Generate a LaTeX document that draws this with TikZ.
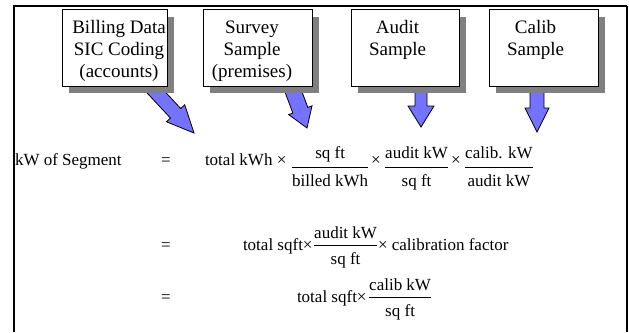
\documentclass[tikz,border=0pt]{standalone}
\usepackage{amsmath}
\usepackage{fontspec}
\setmainfont{Liberation Serif}
\usetikzlibrary{calc,shadows}
\definecolor{arrowblue}{RGB}{115,115,255}
\definecolor{shadowgray}{RGB}{128,128,128}
% fraction centred on the text (rows 2 and 3)
\newcommand{\fr}[2]{$\dfrac{\text{#1}}{\rule{0pt}{16pt}\text{#2}}$}
% fraction set a little below the text line (row 1)
\newcommand{\frl}[2]{\raisebox{-7pt}{$\dfrac{\rule[-7pt]{0pt}{7pt}\text{#1}}{\rule{0pt}{16pt}\text{#2}}$}}
\newcommand{\blockarrow}[5]{%
  \coordinate (ba-h) at ($(#2)!#5!(#1)$);
  \filldraw[arrowshape] ($(#1)!#3!90:(#2)$) -- ($(ba-h)!#3!90:(#2)$) -- ($(ba-h)!#4!90:(#2)$) -- (#2)
    -- ($(ba-h)!#4!-90:(#2)$) -- ($(ba-h)!#3!-90:(#2)$) -- ($(#1)!#3!-90:(#2)$) -- cycle;}
\begin{document}
\begin{tikzpicture}[x=1pt,y=-1pt,
  every node/.style={inner sep=0pt, outer sep=0pt, font=\fontsize{17}{20}\selectfont},
  srcbox/.style={draw=black, line width=0.9pt, fill=white, minimum height=76.5pt,
    drop shadow={shadow xshift=7pt, shadow yshift=-7pt, fill=shadowgray, opacity=1}},
  boxtext/.style={anchor=north, align=center, font=\fontsize{19}{22}\selectfont},
  arrowshape/.style={fill=arrowblue, draw=black, line width=0.8pt, line join=miter},
  frameline/.style={draw=black, line width=2pt}]
\useasboundingbox (0,0) rectangle (629,332);
% frame
\draw[frameline] (14,332) -- (14,6) -- (627,6);
\draw[black, line width=1.4pt] (627,6) -- (627,332);
% arrows (tails hidden under the box shadows)
\coordinate (a1s) at (152,88);  \coordinate (a1e) at (194,133);
\coordinate (a2s) at (292,88);  \coordinate (a2e) at (307,128);
\coordinate (a3s) at (421,88);  \coordinate (a3e) at (421,127);
\coordinate (a4s) at (537,88);  \coordinate (a4e) at (537,132);
\blockarrow{a1s}{a1e}{7pt}{12.5pt}{27pt}
\blockarrow{a2s}{a2e}{8pt}{12.5pt}{19pt}
\blockarrow{a3s}{a3e}{6pt}{13pt}{21pt}
\blockarrow{a4s}{a4e}{7pt}{12pt}{24pt}
% source boxes
\node[srcbox, minimum width=105pt] (b1) at (114.5,47.75) {};
\node[srcbox, minimum width=109pt] (b2) at (257.5,47.75) {};
\node[srcbox, minimum width=108pt] (b3) at (405,47.75) {};
\node[srcbox, minimum width=109pt] (b4) at (543.5,47.75) {};
\node[boxtext] (b1t) at (119,20) {Billing Data\\SIC Coding\\(accounts)};
\node[boxtext] (b2t) at (252,20.5) {Survey\\Sample\\(premises)};
\node[boxtext] (b3t) at (397.5,20.5) {Audit\\Sample};
\node[boxtext] (b4t) at (535.5,20.5) {Calib\\Sample};
% row 1
\node[anchor=base west] (lhs) at (15,165) {kW of Segment};
\node[anchor=base] (eq1) at (166,165) {=};
\node[anchor=base west] (t1) at (205,165) {total kWh ×};
\node[anchor=base west] (f1) at (291,165) {\frl{sq ft}{billed kWh}};
\node[anchor=base] (x2) at (376,165) {×};
\node[anchor=base west] (f2) at (384,165) {\frl{audit kW}{sq ft}};
\node[anchor=base] (x3) at (456,165) {×};
\node[anchor=base west] (f3) at (464,165) {\frl{calib. kW}{audit kW}};
% row 2
\node[anchor=base] (eq2) at (166,250) {=};
\node[anchor=base west] (t2) at (243,250) {total sqft×};
\node[anchor=base west] (f4) at (313,250) {\fr{audit kW}{sq ft}};
\node[anchor=base west] (t3) at (378,250) {× calibration factor};
% row 3
\node[anchor=base] (eq3) at (166,302) {=};
\node[anchor=base west] (t4) at (297,302) {total sqft×};
\node[anchor=base west] (f5) at (368,302) {\fr{calib kW}{sq ft}};
\end{tikzpicture}
\end{document}
